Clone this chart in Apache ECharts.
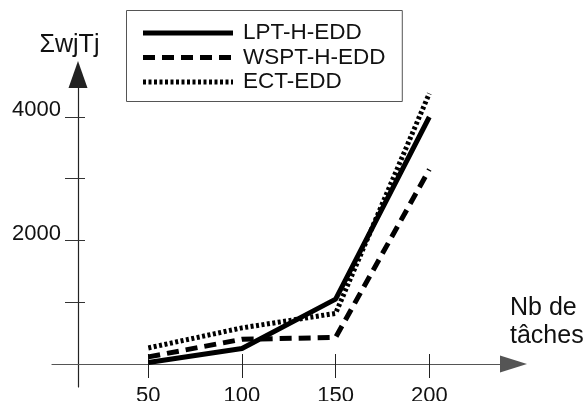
<!DOCTYPE html>
<html>
<head>
<meta charset="utf-8">
<script src="https://cdn.jsdelivr.net/npm/echarts@6/dist/echarts.min.js"></script>
<style>
html,body{margin:0;padding:0;background:#fff;}
#c{width:587px;height:401px;}
</style>
</head>
<body>
<div id="c"></div>
<script>
// ---- data ----
const xValues = [50, 100, 150, 200];
const seriesNames = ['LPT-H-EDD', 'WSPT-H-EDD', 'ECT-EDD'];
const lptValues = [25, 250, 1050, 4000];
const wsptValues = [115, 400, 430, 3150];
const ectValues = [260, 585, 820, 4380];
const xTickValues = [50, 100, 150, 200];
const yTickValues = [1000, 2000, 3000, 4000];
const yLabelValues = [2000, 4000];
const yAxisName = 'ΣwjTj';
const xAxisName = 'Nb de\ntâches';

const FONT = "'Liberation Sans', Arial, sans-serif";
const xMin = -1.41, xMax = 244.95;
const yMin = -372.5, yMax = 4688;
const lineTypes = ['solid', [12, 7], [3, 2.5]];

function pairs(vals) { return xValues.map((x, i) => [x, vals[i]]); }

const chart = echarts.init(document.getElementById('c'), null, {renderer: 'canvas'});
chart.setOption({
  animation: false,
  backgroundColor: '#fff',
  textStyle: {fontFamily: FONT},
  grid: {left: 52, right: 73.5, top: 74.5, bottom: 14, containLabel: false, outerBoundsMode: 'none'},
  legend: {
    orient: 'vertical',
    left: 126.5, top: 10.5,
    padding: [10.25, 16.8, 7.25, 14],
    borderColor: '#555', borderWidth: 1,
    itemWidth: 90, itemHeight: 14, itemGap: 0,
    selectedMode: false,
    itemStyle: {color: 'rgba(0,0,0,0)', borderWidth: 0, opacity: 0},
    lineStyle: {width: 5, color: '#000'},
    textStyle: {fontFamily: FONT, fontSize: 22.5, color: '#111', lineHeight: 24.5, padding: [0, 0, 0, 5]},
    data: seriesNames.map((n, i) => ({name: n, lineStyle: {width: 5, type: lineTypes[i], color: '#000'}}))
  },
  xAxis: [{
    type: 'value', min: xMin, max: xMax, position: 'bottom', offset: -23,
    axisLine: {show: true, onZero: false, symbol: ['none', 'triangle'], symbolSize: [17, 27],
      lineStyle: {color: '#555', width: 1.2}},
    axisTick: {show: true, inside: false, length: 14, customValues: xTickValues, lineStyle: {color: '#222', width: 1}},
    axisLabel: {show: true, customValues: xTickValues, margin: 32, fontSize: 22, lineHeight: 14, color: '#111', fontFamily: FONT,
      verticalAlign: 'middle', formatter: v => String(v)},
    splitLine: {show: false},
    name: xAxisName, nameLocation: 'end', nameGap: -3.5, nameMoveOverlap: false,
    nameTextStyle: {fontFamily: FONT, fontSize: 25, color: '#111', align: 'left', verticalAlign: 'bottom', lineHeight: 28, padding: [0, 0, 14, 0]}
  }, {
    type: 'value', min: xMin, max: xMax, position: 'bottom', offset: -23,
    axisLine: {show: false, onZero: false},
    axisTick: {show: true, inside: true, length: 10, customValues: xTickValues, lineStyle: {color: '#222', width: 1}},
    axisLabel: {show: false},
    splitLine: {show: false}
  }],
  yAxis: [{
    type: 'value', min: yMin, max: yMax, position: 'left', offset: -26,
    axisLine: {show: true, onZero: false, symbol: ['none', 'triangle'], symbolSize: [19, 27],
      lineStyle: {color: '#222', width: 1.2}},
    axisTick: {show: true, inside: false, length: 13, customValues: yTickValues, lineStyle: {color: '#333', width: 1}},
    axisLabel: {show: true, customValues: yLabelValues, margin: 17, fontSize: 22, lineHeight: 14, color: '#111', fontFamily: FONT,
      verticalAlign: 'bottom', formatter: v => String(v)},
    splitLine: {show: false},
    name: yAxisName, nameLocation: 'end', nameGap: 16.5, nameMoveOverlap: false,
    nameTextStyle: {fontFamily: FONT, fontSize: 25, color: '#111', align: 'center', verticalAlign: 'bottom', padding: [0, 17, 0, 0]}
  }, {
    type: 'value', min: yMin, max: yMax, position: 'left', offset: -26,
    axisLine: {show: false, onZero: false},
    axisTick: {show: true, inside: true, length: 7, customValues: yTickValues, lineStyle: {color: '#333', width: 1}},
    axisLabel: {show: false},
    splitLine: {show: false}
  }],
  series: [{
    name: seriesNames[0], type: 'line', data: pairs(lptValues), symbol: 'none',
    lineStyle: {color: '#000', width: 5, type: lineTypes[0]}, itemStyle: {color: '#000'}
  }, {
    name: seriesNames[1], type: 'line', data: pairs(wsptValues), symbol: 'none',
    lineStyle: {color: '#000', width: 5, type: lineTypes[1]}, itemStyle: {color: '#000'}
  }, {
    name: seriesNames[2], type: 'line', data: pairs(ectValues), symbol: 'none',
    lineStyle: {color: '#000', width: 5, type: lineTypes[2]}, itemStyle: {color: '#000'}
  }]
});
</script>
</body>
</html>
